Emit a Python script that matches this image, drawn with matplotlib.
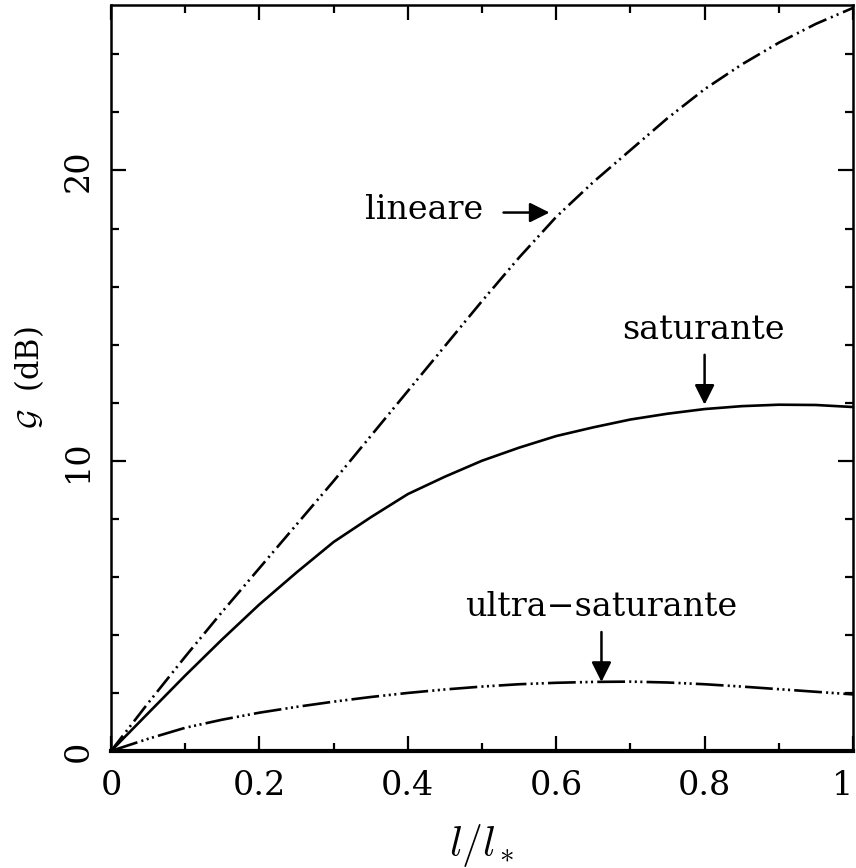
import matplotlib
matplotlib.use("Agg")
import matplotlib.pyplot as plt
from matplotlib.ticker import MultipleLocator, FixedLocator

plt.rcParams['font.family'] = ['DejaVu Serif']
plt.rcParams['mathtext.fontset'] = 'cm'
plt.rcParams['lines.scale_dashes'] = False

x = [0.0, 0.05, 0.1, 0.15, 0.2, 0.25, 0.3, 0.35, 0.4, 0.45, 0.5,
     0.55, 0.6, 0.65, 0.7, 0.75, 0.8, 0.85, 0.9, 0.95, 1.0]
lineare = [0.0, 1.65, 3.25, 4.8, 6.3, 7.8, 9.3, 10.85, 12.4, 13.95, 15.5,
           17.0, 18.4, 19.6, 20.7, 21.8, 22.8, 23.65, 24.4, 25.05, 25.6]
saturante = [0.0, 1.3, 2.6, 3.85, 5.05, 6.15, 7.2, 8.05, 8.85, 9.45, 10.0,
             10.45, 10.85, 11.15, 11.42, 11.62, 11.78, 11.88, 11.93, 11.92, 11.85]
ultra = [0.0, 0.42, 0.8, 1.08, 1.32, 1.52, 1.7, 1.86, 2.0, 2.12, 2.22,
         2.3, 2.35, 2.38, 2.39, 2.36, 2.3, 2.22, 2.13, 2.04, 1.95]

labels = ["lineare", "saturante", "ultra\u2212saturante"]
xticklabels = ["0", "0.2", "0.4", "0.6", "0.8", "1"]
yticklabels = ["0", "10", "20"]

fig = plt.figure(figsize=(8.56, 8.68), dpi=100)
ax = fig.add_axes([111/856, 117/868, 742/856, 746/868])

ax.plot(x, lineare, color='black', lw=1.9,
        ls=(0, (14, 3.5, 1.5, 3.0, 1.5, 3.5)))
ax.plot(x, saturante, color='black', lw=1.9, ls='-')
ax.plot(x, ultra, color='black', lw=1.9,
        ls=(0, (20, 3.0, 1.5, 2.5, 1.5, 2.5, 1.5, 3.0)))

ax.set_xlim(0, 1)
ax.set_ylim(0, 25.7)

ax.xaxis.set_major_locator(FixedLocator([0, 0.2, 0.4, 0.6, 0.8, 1.0]))
ax.set_xticklabels(xticklabels)
ax.xaxis.set_minor_locator(MultipleLocator(0.1))
ax.yaxis.set_major_locator(FixedLocator([0, 10, 20]))
ax.set_yticklabels(yticklabels, rotation=90, va='center')
ax.yaxis.set_minor_locator(MultipleLocator(2))

ax.tick_params(which='both', direction='in', top=True, right=True,
               labelsize=24, width=1.6)
ax.tick_params(which='major', length=11)
ax.tick_params(axis='x', which='major', pad=14)
ax.tick_params(axis='y', which='major', pad=12)
ax.tick_params(which='minor', length=6)
ax.get_xticklabels()[-1].set_horizontalalignment('right')

for s in ax.spines.values():
    s.set_linewidth(1.8)
ax.spines['bottom'].set_linewidth(3.0)

ax.set_xlabel(r'$l/l_*$', fontsize=30, labelpad=14)
ax.set_ylabel(r'$\mathcal{G}$  (dB)', fontsize=22, labelpad=12)

arrow = dict(arrowstyle='-|>', mutation_scale=30, lw=1.8, color='black',
             shrinkA=0, shrinkB=0)
ax.text(0.502, 18.65, labels[0], ha='right', va='center', fontsize=24)
ax.annotate('', xy=(0.591, 18.55), xytext=(0.529, 18.55), arrowprops=arrow)

ax.text(0.798, 14.5, labels[1], ha='center', va='center', fontsize=24)
ax.annotate('', xy=(0.800, 11.93), xytext=(0.800, 13.65), arrowprops=arrow)

ax.text(0.661, 4.97, labels[2], ha='center', va='center', fontsize=24)
ax.annotate('', xy=(0.661, 2.38), xytext=(0.661, 4.1), arrowprops=arrow)

fig.savefig('out.png', dpi=100)
